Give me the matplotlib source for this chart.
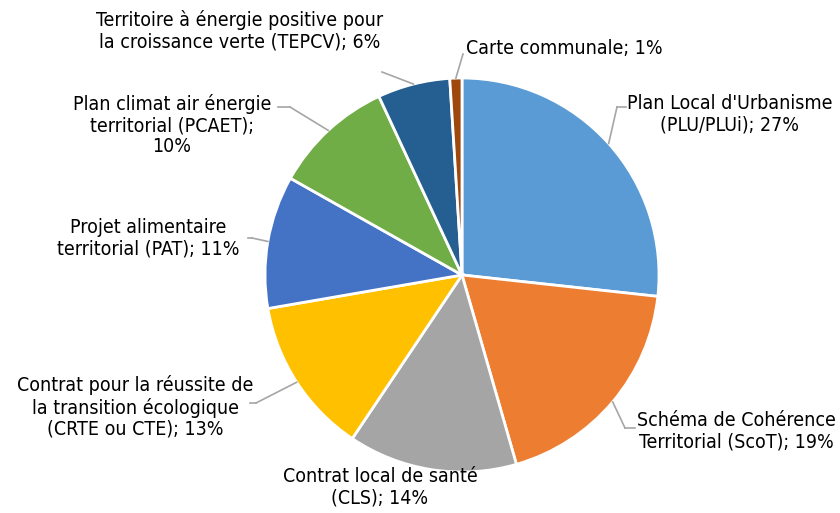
import numpy as np
import matplotlib
matplotlib.use("Agg")
import matplotlib.pyplot as plt

labels = [
    "Plan Local d'Urbanisme\n(PLU/PLUi); 27%",
    "Schéma de Cohérence\nTerritorial (ScoT); 19%",
    "Contrat local de santé\n(CLS); 14%",
    "Contrat pour la réussite de\nla transition écologique\n(CRTE ou CTE); 13%",
    "Projet alimentaire\nterritorial (PAT); 11%",
    "Plan climat air énergie\nterritorial (PCAET);\n10%",
    "Territoire à énergie positive pour\nla croissance verte (TEPCV); 6%",
    "Carte communale; 1%",
]
values = [27, 19, 14, 13, 11, 10, 6, 1]
colors = ["#5B9BD5", "#ED7D31", "#A5A5A5", "#FFC000",
          "#4472C4", "#70AD47", "#255E91", "#9E480E"]

W, H = 840, 513
fig = plt.figure(figsize=(W / 100, H / 100), dpi=100)
ax = fig.add_axes([0, 0, 1, 1])

cx, cy, r = 462, H - 275, 197
wedges, _ = ax.pie(values, colors=colors, startangle=90, counterclock=False,
                   center=(cx, cy), radius=r, frame=True,
                   wedgeprops=dict(edgecolor="white", linewidth=2))
ax.set_xlim(0, W)
ax.set_ylim(0, H)
ax.set_aspect("equal")
ax.axis("off")

# label centre (pixels from top-left), alignment, leader elbow, stub length
lab_pos = [
    (730, 114, "center", (617, 107), 9),
    (736, 431, "center", (625, 428), 10),
    (380, 487, "center", None, 0),
    (135, 407, "center", (256, 403), -6),
    (148, 238, "center", (252, 238), -4),
    (172, 125, "center", (290, 107), -12),
    (240, 31, "center", (382, 72), 0),
    (466, 48, "left", (463, 54), 0),
]

grey = "#A6A6A6"
for w, lab, (lx, ly, ha, elbow, stub) in zip(wedges, labels, lab_pos):
    mid = np.deg2rad((w.theta1 + w.theta2) / 2)
    ex, ey = cx + r * np.cos(mid), cy + r * np.sin(mid)
    if elbow is not None:
        bx, by = elbow
        ax.plot([bx, ex], [H - by, ey], color=grey, lw=1.2, zorder=1)
        if stub:
            ax.plot([bx, bx + stub], [H - by, H - by], color=grey, lw=1.2)
    ax.text(lx, H - ly, lab, ha=ha, va="center", fontsize=14,
            color="#000000", linespacing=1.15, fontfamily="DejaVu Sans",
            fontstretch="condensed")

fig.savefig("out.png", dpi=100, facecolor="white")
